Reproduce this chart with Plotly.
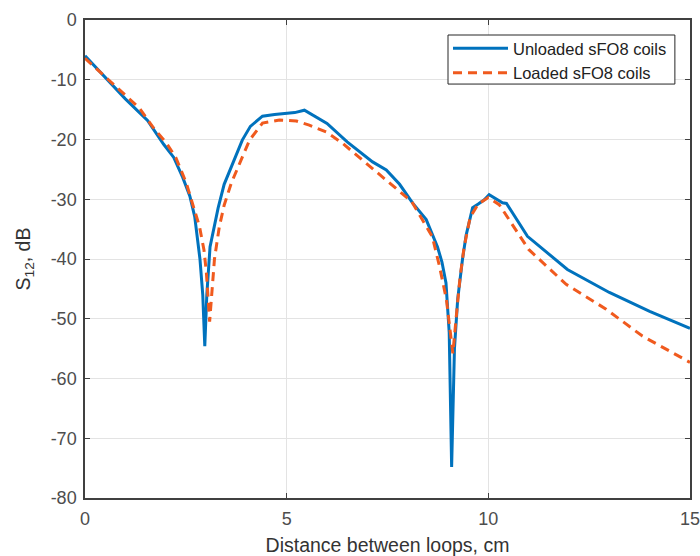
import plotly.graph_objects as go

# Unloaded sFO8 coils
x_unloaded = [0, 0.5, 1.0, 1.55, 1.75, 1.95, 2.2, 2.42, 2.6, 2.72, 2.85, 2.92, 2.97, 3.02, 3.1, 3.2,
              3.3, 3.45, 3.6, 3.78, 3.9, 4.1, 4.4, 4.7, 5.0, 5.2, 5.44, 5.7, 6.0, 6.5, 7.13, 7.47,
              7.8, 8.12, 8.46, 8.74, 8.85, 8.95, 9.03, 9.09, 9.16, 9.24, 9.36, 9.45, 9.57, 9.61,
              9.75, 9.9, 10.02, 10.2, 10.35, 10.45, 10.97, 11.96, 13.0, 14.0, 15.0]
y_unloaded = [-6.0, -9.6, -13.2, -16.8, -18.9, -20.8, -23.0, -26.3, -29.5, -32.9, -40.0, -46.0, -54.6,
              -46.0, -38.0, -34.5, -31.5, -27.5, -25.0, -22.0, -20.1, -17.8, -16.1, -15.8, -15.6,
              -15.5, -15.1, -16.1, -17.3, -20.4, -23.75, -25.1, -27.5, -30.6, -33.4, -38.0, -40.5,
              -44.0, -52.3, -74.8, -55.0, -46.75, -40.0, -36.0, -32.3, -31.4, -30.8, -30.1, -29.25,
              -30.0, -30.6, -30.7, -36.2, -41.75, -45.6, -48.75, -51.6]

# Loaded sFO8 coils
x_loaded = [0, 0.5, 1.0, 1.35, 1.68, 2.02, 2.25, 2.51, 2.7, 2.84, 2.95, 3.01, 3.09, 3.15, 3.21, 3.33,
            3.45, 3.63, 3.88, 4.08, 4.4, 4.82, 5.24, 5.56, 5.98, 6.38, 6.8, 7.22, 7.63, 8.1, 8.61,
            8.79, 8.96, 9.05, 9.12, 9.2, 9.3, 9.4, 9.55, 9.75, 10.0, 10.27, 11.0, 11.93, 12.92,
            13.82, 15.0]
y_loaded = [-6.4, -9.5, -12.5, -14.75, -17.9, -20.6, -23.0, -27.25, -31.5, -34.6, -38.5, -42.3, -50.5,
            -45.0, -40.0, -34.6, -31.0, -27.25, -23.4, -20.1, -17.25, -16.75, -16.9, -17.6, -18.75,
            -20.6, -23.0, -25.4, -27.6, -30.4, -36.25, -41.25, -46.75, -52.0, -55.8, -50.0, -43.0,
            -38.0, -33.0, -30.8, -29.7, -30.9, -38.4, -44.25, -48.4, -52.9, -57.3]

x_ticks = [0, 5, 10, 15]
y_ticks = [0, -10, -20, -30, -40, -50, -60, -70, -80]

FONT = "Arial, Liberation Sans, Helvetica, sans-serif"
AX = "#404040"

fig = go.Figure()
fig.add_trace(go.Scatter(x=x_unloaded, y=y_unloaded, mode="lines",
                         name="Unloaded sFO8 coils",
                         line=dict(color="#0072BD", width=3)))
fig.add_trace(go.Scatter(x=x_loaded, y=y_loaded, mode="lines",
                         name="Loaded sFO8 coils",
                         line=dict(color="#F05A1E", width=3, dash="9px,6px")))

axis_common = dict(showline=True, linecolor=AX, linewidth=1.5, mirror="ticks",
                   ticks="inside", ticklen=5, tickcolor=AX, automargin=False,
                   ticklabeloverflow="allow",
                   showgrid=True, gridcolor="#e3e3e3", gridwidth=1,
                   zeroline=False, tickfont=dict(size=18, color="#4d4d4d", family=FONT))

fig.update_xaxes(range=[0, 15], tickvals=x_ticks, ticktext=[str(v) for v in x_ticks],
                 ticklabelstandoff=4,
                 title=dict(text="Distance between loops, cm",
                            font=dict(size=19.5, color="#333333", family=FONT)),
                 **axis_common)
fig.update_yaxes(range=[-80, 0], tickvals=y_ticks, ticktext=[str(v) for v in y_ticks],
                 ticklabelstandoff=3,
                 title=dict(text="S<sub>12</sub>, dB",
                            font=dict(size=19.5, color="#333333", family=FONT)),
                 **axis_common)

# legend frame (drawn as a shape so its size matches the reference)
fig.add_shape(type="rect", xref="paper", yref="paper",
              x0=0.6, x1=0.975, y0=0.866, y1=0.9686,
              line=dict(color="#262626", width=1), fillcolor="white", layer="above")

fig.update_layout(
    width=700, height=556,
    margin=dict(l=85, r=10, t=20, b=58),
    paper_bgcolor="white", plot_bgcolor="white",
    font=dict(family=FONT),
    legend=dict(x=0.6, y=0.977, xanchor="left", yanchor="top",
                bgcolor="rgba(0,0,0,0)", borderwidth=0,
                font=dict(size=16.5, color="#222222", family=FONT),
                itemwidth=55, tracegroupgap=0),
    showlegend=True,
)

fig.write_html("out.html", config={"displayModeBar": False},
               post_script="document.body.style.margin='0';")
